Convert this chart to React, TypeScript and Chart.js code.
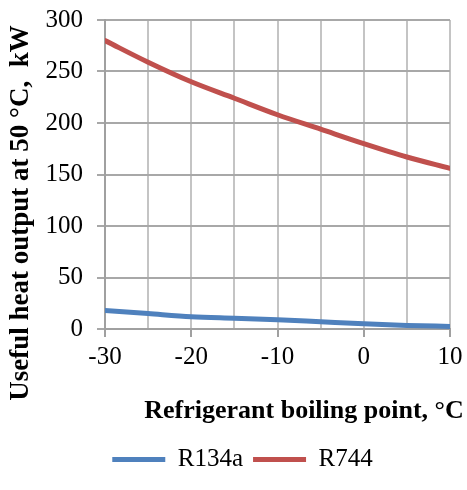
import React, { useEffect, useRef } from "react";
import { Chart, registerables } from "chart.js";

Chart.register(...registerables);

const boilingPoints = [-30, -25, -20, -15, -10, -5, 0, 5, 10];
const r134a = [18, 15, 12, 10.5, 9, 7, 5, 3.5, 2.5];
const r744 = [280, 259, 240, 224, 208, 194, 180, 167, 156];
const seriesNames = ["R134a", "R744"];
const xTitle = "Refrigerant boiling point, \u00B0C";
const yTitle = "Useful heat output at 50 \u00B0C,  kW";

const FONT = "'Liberation Serif', 'Times New Roman', serif";

const titlePlugin = {
  id: "axisTitles",
  afterDraw(chart: any) {
    const { ctx, chartArea } = chart;
    ctx.save();
    ctx.fillStyle = "#000";
    ctx.textAlign = "center";
    ctx.textBaseline = "middle";
    ctx.font = `bold 26px ${FONT}`;
    ctx.fillText(xTitle, chartArea.right - 146, 411);
    ctx.font = `bold 27px ${FONT}`;
    ctx.translate(21, 213);
    ctx.rotate(-Math.PI / 2);
    ctx.fillText(yTitle, 0, 0);
    ctx.restore();
  },
};

export default function App() {
  const ref = useRef<HTMLCanvasElement | null>(null);
  useEffect(() => {
    if (!ref.current) return;
    const chart = new Chart(ref.current, {
      type: "line",
      data: {
        datasets: [
          {
            label: seriesNames[0],
            data: boilingPoints.map((x, i) => ({ x, y: r134a[i] })),
            borderColor: "#4F81BD",
            backgroundColor: "#4F81BD",
            borderWidth: 5,
            pointRadius: 0,
            cubicInterpolationMode: "monotone",
            borderCapStyle: "round",
          },
          {
            label: seriesNames[1],
            data: boilingPoints.map((x, i) => ({ x, y: r744[i] })),
            borderColor: "#C0504D",
            backgroundColor: "#C0504D",
            borderWidth: 5,
            pointRadius: 0,
            cubicInterpolationMode: "monotone",
            borderCapStyle: "round",
          },
        ],
      },
      options: {
        animation: false,
        responsive: false,
        maintainAspectRatio: false,
        layout: { padding: { left: 18, right: 0, top: 20, bottom: 8 } },
        plugins: {
          tooltip: { enabled: false },
          legend: {
            position: "bottom",
            labels: {
              usePointStyle: true,
              pointStyle: "line",
              pointStyleWidth: 53,
              color: "#000",
              font: { family: FONT, size: 25 },
              padding: 10,
            },
          },
        },
        scales: {
          x: {
            type: "linear",
            min: -30,
            max: 10,
            afterFit: (s: any) => {
              s.height = 108;
              s.paddingRight = 17;
              s.paddingLeft = 0;
            },
            ticks: {
              stepSize: 5,
              autoSkip: false,
              maxRotation: 0,
              padding: 5,
              color: "#000",
              font: { family: FONT, size: 25 },
              callback: (v: any) => (Number(v) % 10 === 0 ? String(v) : ""),
            },
            grid: {
              color: "#c4c4c4",
              lineWidth: 2,
              tickLength: 8,
              tickColor: (c: any) =>
                c.tick && Number(c.tick.value) % 10 === 0 ? "#a0a0a0" : "rgba(0,0,0,0)",
            },
            border: { color: "#a0a0a0", width: 2 },
          },
          y: {
            min: 0,
            max: 300,
            afterFit: (s: any) => {
              s.width = 87;
              s.paddingTop = 0;
              s.paddingBottom = 0;
            },
            ticks: {
              stepSize: 50,
              padding: 14,
              color: "#000",
              font: { family: FONT, size: 25 },
            },
            grid: {
              color: "#a8a8a8",
              lineWidth: 2,
              tickLength: 8,
            },
            border: { color: "#a0a0a0", width: 2 },
          },
        },
      },
      plugins: [titlePlugin],
    });
    return () => chart.destroy();
  }, []);
  return (
    <div style={{ position: "fixed", left: 0, top: 0, width: 467, height: 490, background: "#fff" }}>
      <canvas ref={ref} width={467} height={490} style={{ width: 467, height: 490 }} />
    </div>
  );
}
